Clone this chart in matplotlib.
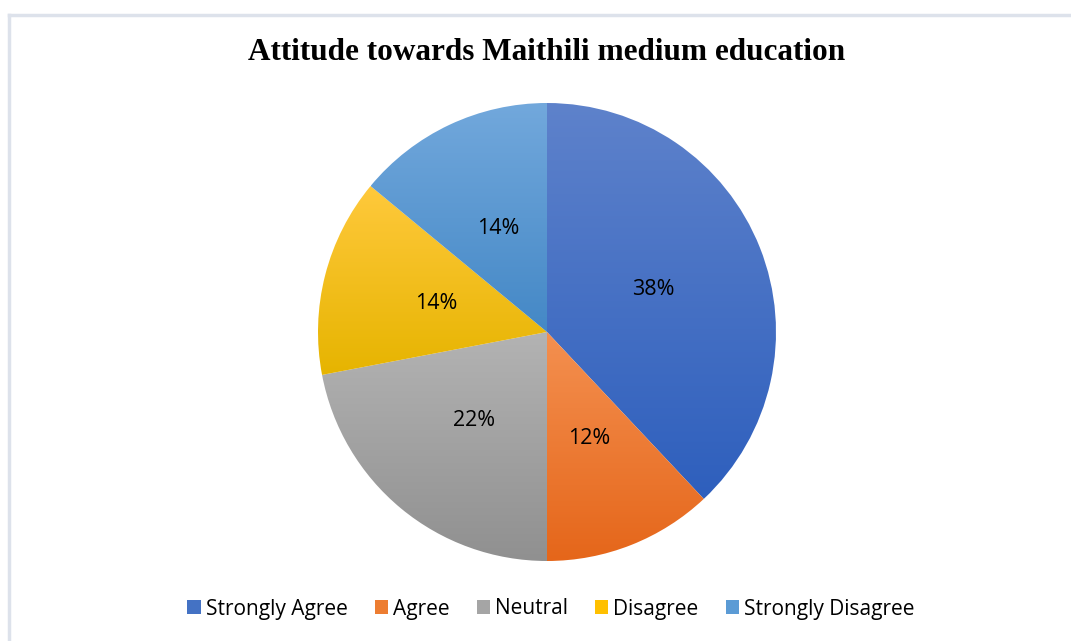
import numpy as np
import matplotlib
matplotlib.use("Agg")
import matplotlib.pyplot as plt
from matplotlib.colors import LinearSegmentedColormap
from matplotlib.lines import Line2D
from matplotlib.patches import Patch

# survey responses (percent)
categories = ["Strongly Agree", "Agree", "Neutral", "Disagree", "Strongly Disagree"]
shares = [38, 12, 22, 14, 14]

# light (top) / dark (bottom) shade of each slice
top_colors = ["#5E82CB", "#F49050", "#B3B3B3", "#FFC93C", "#72A8DC"]
bottom_colors = ["#2E5FBD", "#E5661A", "#909090", "#E6B400", "#4488C6"]
mid_colors = ["#4472C4", "#ED7D31", "#A5A5A5", "#FFC000", "#5B9BD5"]

label_font = "Open Sans"

W, H = 1071, 641
fig = plt.figure(figsize=(W / 100, H / 100), dpi=100)
fig.patch.set_facecolor("white")

# chart area frame (left and top edges)
frame_col = "#DDE2EB"
fig.add_artist(Line2D([9 / W, 9 / W], [0, 1 - 15 / H], transform=fig.transFigure,
                      color=frame_col, lw=2.5))
fig.add_artist(Line2D([9 / W, 1], [1 - 15 / H, 1 - 15 / H], transform=fig.transFigure,
                      color=frame_col, lw=2.5))

fig.text(547 / W, 1 - 53 / H, "Attitude towards Maithili medium education",
         ha="center", va="center", fontsize=22.5, fontweight="bold",
         family="Liberation Serif", color="black")

cx, cy, r = 547, H - 332, 229
ax = fig.add_axes([(cx - r) / W, (cy - r) / H, 2 * r / W, 2 * r / H])
ax.set_xlim(-1, 1)
ax.set_ylim(-1, 1)
ax.set_aspect("equal")
ax.axis("off")

wedges, texts, autotexts = ax.pie(
    shares, startangle=90, counterclock=False, radius=1,
    colors=mid_colors, autopct="%d%%", pctdistance=0.5,
    textprops=dict(fontsize=15.5, family=label_font, color="black"),
    wedgeprops=dict(linewidth=0))

# vertical gradient inside each slice
for w, c0, c1 in zip(wedges, top_colors, bottom_colors):
    ext = w.get_path().get_extents()
    cmap = LinearSegmentedColormap.from_list("g", [c1, c0])
    grad = np.linspace(0, 1, 256).reshape(-1, 1)
    im = ax.imshow(grad, cmap=cmap, origin="lower", aspect="auto",
                   extent=[ext.x0, ext.x1, ext.y0, ext.y1], zorder=w.get_zorder())
    im.set_clip_path(w)
    w.set_facecolor("none")
for t in autotexts:
    t.set_zorder(5)
ax.set_xlim(-1, 1)
ax.set_ylim(-1, 1)

handles = [Patch(facecolor=c, edgecolor="none") for c in mid_colors]
fig.legend(handles, categories, loc="center", bbox_to_anchor=(551 / W, 1 - 609 / H),
           ncol=5, frameon=False, prop=dict(family=label_font, size=15),
           handlelength=0.63, handleheight=0.63, handletextpad=0.25, columnspacing=1.3)

fig.savefig("out.png", dpi=100, facecolor="white")
